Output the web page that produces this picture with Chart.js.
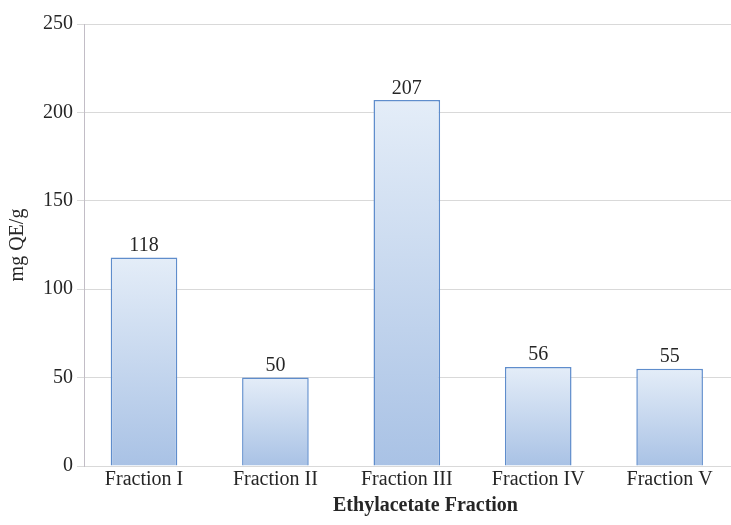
<!DOCTYPE html>
<html>
<head>
<meta charset="utf-8">
<script src="https://cdn.jsdelivr.net/npm/chart.js@4/dist/chart.umd.min.js"></script>
<style>
  html, body { margin: 0; padding: 0; background: #fff; overflow: hidden; }
  #wrap { position: relative; width: 767px; height: 525px; }
</style>
</head>
<body>
<div id="wrap"><canvas id="grafico"></canvas></div>
<script>
// datos de la fracción de acetato de etilo
const fracciones = ['Fraction I', 'Fraction II', 'Fraction III', 'Fraction IV', 'Fraction V'];
const valores = [118, 50, 207, 56, 55];
const ticksY = [0, 50, 100, 150, 200, 250];

const fuente = 'Liberation Serif, Times New Roman, serif';
const colorTexto = '#262626';

// etiquetas de valor sobre cada barra
const etiquetasValor = {
  id: 'etiquetasValor',
  afterDatasetsDraw(chart) {
    const ctx = chart.ctx;
    const meta = chart.getDatasetMeta(0);
    ctx.save();
    ctx.font = '20px ' + fuente;
    ctx.fillStyle = colorTexto;
    ctx.textAlign = 'center';
    ctx.textBaseline = 'alphabetic';
    meta.data.forEach((barra, i) => {
      ctx.fillText(String(valores[i]), barra.x, barra.y - 6.5);
    });
    ctx.restore();
  }
};

// degradado vertical por barra (claro arriba, más oscuro abajo)
function rellenoBarra(context) {
  const chart = context.chart;
  const y = chart.scales.y;
  if (!chart.chartArea || !y || context.raw == null) return '#c9d8ef';
  const top = y.getPixelForValue(context.raw.y);
  const base = y.getPixelForValue(0);
  const g = chart.ctx.createLinearGradient(0, top, 0, base);
  g.addColorStop(0, '#e4edf8');
  g.addColorStop(1, '#a9c2e5');
  return g;
}

const ctx = document.getElementById('grafico').getContext('2d');

new Chart(ctx, {
  type: 'bar',
  data: {
    datasets: [{
      label: 'mg QE/g',
      data: valores.map((v, i) => ({ x: i, y: v })),
      backgroundColor: rellenoBarra,
      borderColor: '#5f8dcc',
      borderWidth: 1.5,
      categoryPercentage: 1,
      barPercentage: 0.507
    }]
  },
  options: {
    responsive: true,
    maintainAspectRatio: false,
    animation: false,
    layout: { padding: { top: 24, right: 0, left: 0, bottom: 0 } },
    plugins: {
      legend: { display: false },
      tooltip: { enabled: false }
    },
    scales: {
      x: {
        type: 'linear',
        bounds: 'data',
        offset: false,
        min: -0.4566,
        max: 4.741,
        afterBuildTicks: s => { s.ticks = fracciones.map((_, i) => ({ value: i })); },
        grid: { display: false, drawTicks: false },
        border: { display: true, color: '#d9d9d9', width: 1 },
        ticks: {
          autoSkip: false,
          maxRotation: 0,
          padding: 2,
          color: colorTexto,
          font: { family: fuente, size: 20 },
          callback: v => fracciones[v] ?? ''
        },
        title: {
          display: true,
          text: 'Ethylacetate Fraction',
          color: colorTexto,
          font: { family: fuente, size: 20, weight: 'bold' },
          padding: { top: 4, bottom: 7 }
        },
        afterFit: s => { s.height = 59; }
      },
      y: {
        min: 0,
        max: 250,
        afterBuildTicks: s => { s.ticks = ticksY.map(v => ({ value: v })); },
        grid: { color: '#d9d9d9', tickLength: 7, tickColor: '#d9d9d9' },
        border: { display: true, color: '#c2bdc6', width: 1 },
        ticks: {
          padding: 4,
          color: colorTexto,
          font: { family: fuente, size: 20 }
        },
        title: {
          display: true,
          text: 'mg QE/g',
          color: colorTexto,
          font: { family: fuente, size: 20 },
          padding: { top: 6, bottom: 4 }
        },
        afterFit: s => { s.width = 84; }
      }
    }
  },
  plugins: [etiquetasValor]
});
</script>
</body>
</html>
